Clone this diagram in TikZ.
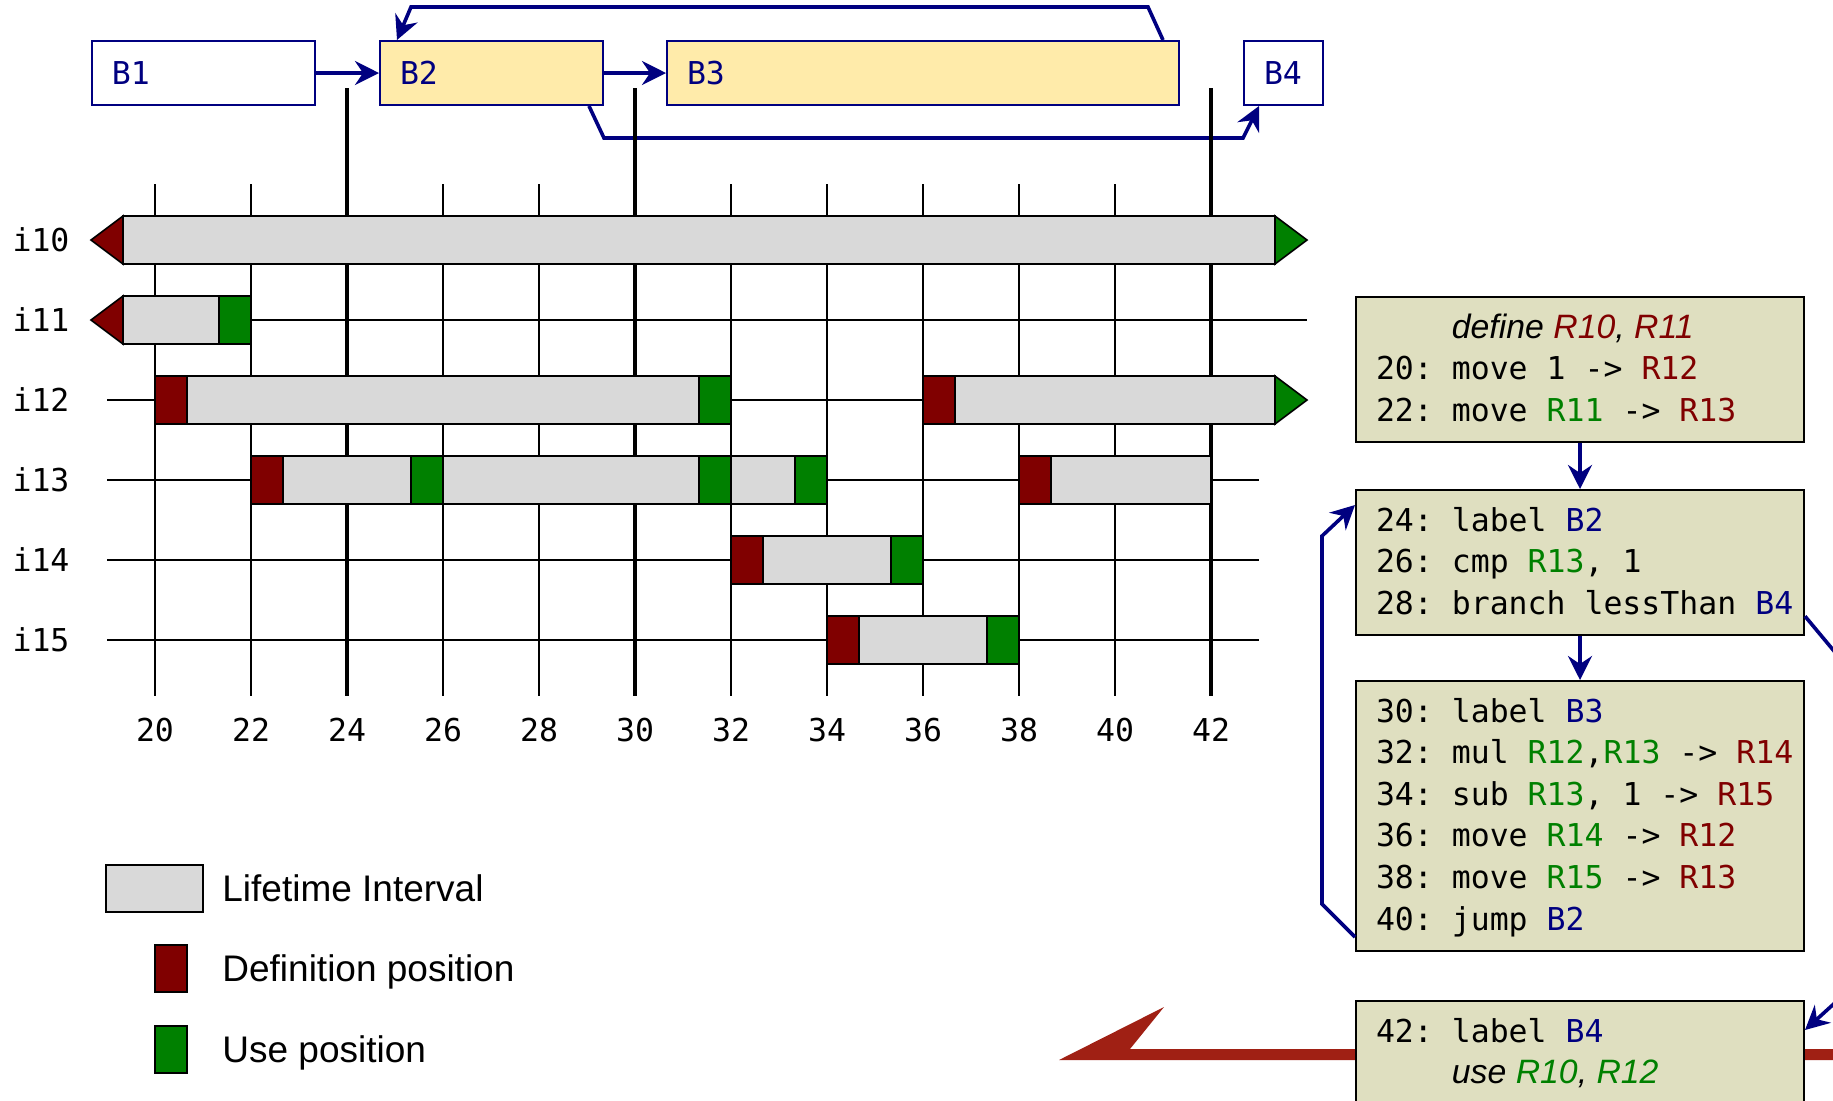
\documentclass[tikz,border=0pt]{standalone}
\usepackage{fontspec}
\usepackage{xcolor}
\usetikzlibrary{arrows.meta}

\setmainfont{Liberation Sans}
\newfontfamily\codefont{DejaVu Sans Mono}

\definecolor{navy}{RGB}{0,0,128}
\definecolor{defred}{RGB}{128,0,0}
\definecolor{usegreen}{RGB}{0,128,0}
\definecolor{lifegray}{RGB}{217,217,217}
\definecolor{blockyellow}{RGB}{255,235,170}
\definecolor{codebg}{RGB}{223,223,192}
\definecolor{exitred}{RGB}{160,32,20}

\newcommand{\mono}{\codefont\fontsize{15.75pt}{20.8pt}\selectfont\frenchspacing}
\newcommand{\annot}[1]{{\rmfamily\itshape\fontsize{16.9pt}{20.8pt}\selectfont
  \spaceskip=0pt\xspaceskip=0pt #1}}
\newcommand{\defreg}[1]{\textcolor{defred}{#1}}
\newcommand{\usereg}[1]{\textcolor{usegreen}{#1}}
\newcommand{\blkref}[1]{\textcolor{navy}{#1}}
\newcommand{\arr}{\mbox{->}}

% interval pieces: {row}{from}{to} and {row}{position}
\newcommand{\lifespan}[3]{\filldraw[lifebar] ({#2-20},{#1-0.3}) rectangle ({#3-20},{#1+0.3});}
\newcommand{\defpos}[2]{\filldraw[posbox,fill=defred] ({#2-20},{#1-0.3}) rectangle ({#2-20+2/3},{#1+0.3});}
\newcommand{\usepos}[2]{\filldraw[posbox,fill=usegreen] ({#2-20-2/3},{#1-0.3}) rectangle ({#2-20},{#1+0.3});}
\newcommand{\livein}[1]{\filldraw[posbox,fill=defred] (-2/3,{#1-0.3}) -- (-4/3,#1) -- (-2/3,{#1+0.3}) -- cycle;}
\newcommand{\liveout}[1]{\filldraw[posbox,fill=usegreen] (70/3,{#1-0.3}) -- (24,#1) -- (70/3,{#1+0.3}) -- cycle;}

\tikzset{
  blockbox/.style={draw=navy, line width=1pt, anchor=north west, minimum height=32pt,
    inner xsep=10pt, inner ysep=0pt, text width=#1, align=left, font=\mono, text=navy},
  % full-width spaces, one strut above the first and below the last line
  codebox/.style={draw=black, line width=1pt, fill=codebg, anchor=north west,
    inner xsep=4pt, inner ysep=0pt, text width=216pt, align=left, font=\mono,
    execute at begin node={\leftskip=6pt\spaceskip=0.602em\xspaceskip=0.602em\rule{0pt}{20.5pt}},
    execute at end node={\rule[-10.5pt]{0pt}{10.5pt}}},
  flow/.style={draw=navy, line width=1.8pt, -{Stealth[length=12pt,width=12pt,inset=4pt]}},
  gridthin/.style={line width=0.75pt},
  gridthick/.style={line width=2pt},
  rowline/.style={line width=0.7pt},
  lifebar/.style={fill=lifegray, draw=black, line width=0.8pt},
  posbox/.style={draw=black, line width=0.8pt},
  axislabel/.style={font=\mono, inner sep=0pt},
  keybox/.style={draw=black, line width=1pt, minimum height=23.5pt, inner sep=0pt},
  keytext/.style={anchor=base west, inner sep=0pt, font=\fontsize{18.5pt}{22pt}\selectfont}
}

\begin{document}
\begin{tikzpicture}[x=0.5pt, y=-0.5pt]
  \useasboundingbox (0,0) rectangle (1833,1100);
  \clip (0,0) rectangle (1833,1100);

  % control flow blocks
  \node[blockbox=91.5pt] (B1) at (91,40) {B1};
  \node[blockbox=91.5pt, fill=blockyellow] (B2) at (379,40) {B2};
  \node[blockbox=236pt, fill=blockyellow] (B3) at (666,40) {B3};
  \node[blockbox=19.5pt] (B4) at (1243,40) {B4};
  \draw[flow] (B1.east) -- (B2.west);
  \draw[flow] (B2.east) -- (B3.west);
  \draw[flow] ([xshift=-8.5pt]B3.north east) -- ++(-15,-33)
    -- ([xshift=16pt,yshift=16.5pt]B2.north west) -- ([xshift=9pt]B2.north west);
  \draw[flow] ([xshift=-7.5pt]B2.south east) -- ++(15,32)
    -- ([yshift=-16pt]B4.south west) -- ([xshift=8pt]B4.south west);

  % lifetime intervals, one row per register
  \begin{scope}[shift={(155,240)}, x=24pt, y=-40pt]
    \foreach \p in {20,22,26,28,32,34,36,38,40}
      \draw[gridthin] (\p-20,-0.7) -- (\p-20,5.7);
    \foreach \p in {24,30,42}
      \draw[gridthick] (\p-20,-1.9) -- (\p-20,5.7);
    \foreach \p in {20,22,...,42}
      \node[axislabel] (pos\p) at (\p-20,6.125) {\p};
    \foreach \r in {0,1,2,3,4,5}
      \node[axislabel] (reg\r) at (-2.375,\r) {i1\r};
    \foreach \r in {0,1,2}
      \draw[rowline] (-1,\r) -- (24,\r);
    \foreach \r in {3,4,5}
      \draw[rowline] (-1,\r) -- (23,\r);

    % i10
    \lifespan{0}{19.333}{43.333} \livein{0} \liveout{0}
    % i11
    \lifespan{1}{19.333}{22} \livein{1} \usepos{1}{22}
    % i12
    \lifespan{2}{20}{32} \defpos{2}{20} \usepos{2}{32}
    \lifespan{2}{36}{43.333} \defpos{2}{36} \liveout{2}
    % i13
    \lifespan{3}{22}{34} \defpos{3}{22} \usepos{3}{26} \usepos{3}{32} \usepos{3}{34}
    \lifespan{3}{38}{42} \defpos{3}{38}
    % i14
    \lifespan{4}{32}{36} \defpos{4}{32} \usepos{4}{36}
    % i15
    \lifespan{5}{34}{38} \defpos{5}{34} \usepos{5}{38}
  \end{scope}

  % legend
  \node[keybox, fill=lifegray, minimum width=48.5pt] (keylife) at (154.5,888.5) {};
  \node[keybox, fill=defred, minimum width=16pt] (keydef) at (171,968) {};
  \node[keybox, fill=usegreen, minimum width=16pt] (keyuse) at (171,1049) {};
  \node[keytext] (keylifetext) at (222,901) {Lifetime Interval};
  \node[keytext] (keydeftext) at (222,981) {Definition position};
  \node[keytext] (keyusetext) at (222,1062) {Use position};

  % leaving the block
  \coordinate (exittip) at (1059,1060);
  \fill[exitred] (exittip) -- ++(105,-53) -- ++(-34,42) -- ++(800,0) -- ++(0,11) -- cycle;

  % code of the blocks
  \node[codebox] (code1) at (1355,296) {\phantom{20:~}\annot{define \defreg{R10}, \defreg{R11}}\\
    20:~move~1~\arr~\defreg{R12}\\
    22:~move~\usereg{R11}~\arr~\defreg{R13}};
  \node[codebox] (code2) at (1355,489) {24:~label~\blkref{B2}\\
    26:~cmp~\usereg{R13},~1\\
    28:~branch~lessThan~\blkref{B4}};
  \node[codebox] (code3) at (1355,680) {30:~label~\blkref{B3}\\
    32:~mul~\usereg{R12},\usereg{R13}~\arr~\defreg{R14}\\
    34:~sub~\usereg{R13},~1~\arr~\defreg{R15}\\
    36:~move~\usereg{R14}~\arr~\defreg{R12}\\
    38:~move~\usereg{R15}~\arr~\defreg{R13}\\
    40:~jump~\blkref{B2}};
  \node[codebox] (code4) at (1355,1000) {42:~label~\blkref{B4}\\
    \phantom{42:~}\annot{use \usereg{R10}, \usereg{R12}}};
  \draw[flow] (code1) -- (code2);
  \draw[flow] (code2) -- (code3);
  \draw[flow] ([yshift=7.5pt]code3.south west) -- ++(-33,-33) -- ++(0,-368)
    -- ([yshift=-8pt]code2.north west);
  \draw[flow] ([yshift=10pt]code2.south east) -- ++(45,54) -- ++(0,319)
    -- ([yshift=-15pt]code4.north east);
\end{tikzpicture}
\end{document}
